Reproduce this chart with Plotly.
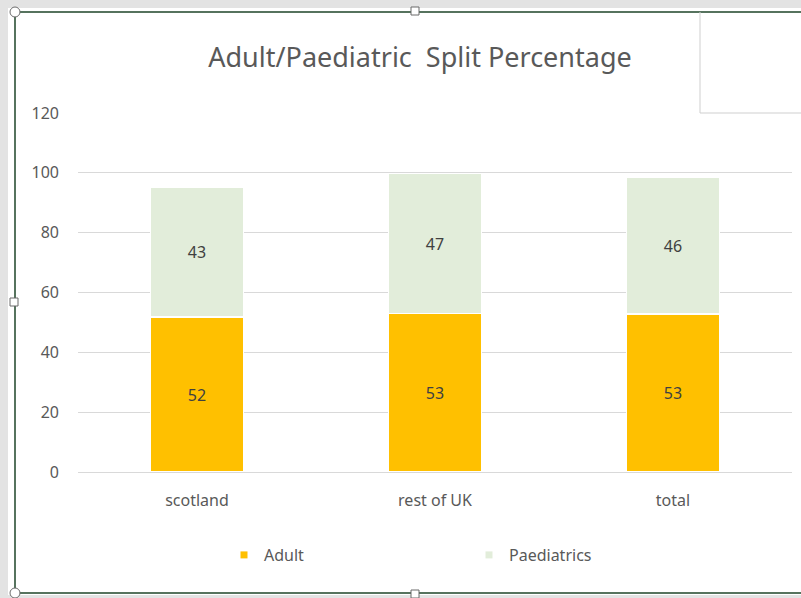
import plotly.graph_objects as go

categories = ["scotland", "rest of UK", "total"]
adult = [51.8, 53.0, 52.8]
paediatrics = [43.4, 46.7, 45.6]
y_ticks = [0, 20, 40, 60, 80, 100, 120]

W, H = 801, 598
ADULT_COLOR = "#FFC000"
PAED_COLOR = "#E2EDDA"
TEXT_GRAY = "#595959"
FONT = "Noto Sans"


def px_x(x):
    return x / W


def px_y(y):
    return 1 - y / H


fig = go.Figure()
for name, values, color in [("Adult", adult, ADULT_COLOR), ("Paediatrics", paediatrics, PAED_COLOR)]:
    fig.add_trace(
        go.Bar(
            x=categories,
            y=values,
            name=name,
            marker=dict(color=color, line=dict(color="white", width=1.5)),
            texttemplate="%{y:.0f}",
            textposition="inside",
            insidetextanchor="middle",
            textfont=dict(family=FONT, size=16, color="#404040"),
            showlegend=False,
            width=0.39,
        )
    )
    # small square legend markers like Excel's
    fig.add_trace(
        go.Scatter(
            x=[None],
            y=[None],
            mode="markers",
            name=name,
            marker=dict(symbol="square", size=7, color=color),
        )
    )

fig.update_layout(
    width=W,
    height=H,
    barmode="stack",
    margin=dict(l=0, r=0, t=0, b=0, autoexpand=False),
    paper_bgcolor="white",
    plot_bgcolor="white",
    font=dict(family=FONT, color=TEXT_GRAY),
    title=dict(
        text="Adult/Paediatric  Split Percentage",
        x=px_x(420),
        y=px_y(58),
        xanchor="center",
        yanchor="middle",
        font=dict(family=FONT, size=27, color=TEXT_GRAY),
    ),
    legend=dict(
        orientation="h",
        traceorder="normal",
        x=px_x(224),
        y=px_y(555),
        xanchor="left",
        yanchor="middle",
        entrywidth=200,
        entrywidthmode="pixels",
        font=dict(family=FONT, size=16, color=TEXT_GRAY),
    ),
    xaxis=dict(
        domain=[px_x(78), px_x(792)],
        showline=True,
        linecolor="#D9D9D9",
        showgrid=False,
        ticks="",
        ticklabelstandoff=14,
        tickfont=dict(family=FONT, size=16, color=TEXT_GRAY),
    ),
    yaxis=dict(
        domain=[px_y(472), px_y(113)],
        range=[0, 120],
        tickvals=y_ticks,
        showgrid=True,
        gridcolor="#D9D9D9",
        zeroline=False,
        ticklabelstandoff=18,
        tickfont=dict(family=FONT, size=16, color=TEXT_GRAY),
    ),
)

# worksheet background and chart selection frame
FRAME = dict(color="#56735E", width=2)
shapes = [
    dict(type="rect", x0=0, x1=1, y0=px_y(0), y1=px_y(8), fillcolor="#E3E3E3", line_width=0),
    dict(type="rect", x0=0, x1=px_x(8), y0=0, y1=1, fillcolor="#E3E3E3", line_width=0),
    dict(type="rect", x0=0, x1=1, y0=0, y1=px_y(595), fillcolor="#E3E3E3", line_width=0),
    dict(type="line", x0=px_x(15), x1=1.01, y0=px_y(12), y1=px_y(12), line=FRAME),
    dict(type="line", x0=px_x(15), x1=px_x(15), y0=px_y(12), y1=px_y(593), line=FRAME),
    dict(type="line", x0=px_x(15), x1=1.01, y0=px_y(593), y1=px_y(593), line=FRAME),
    dict(type="line", x0=px_x(700), x1=px_x(700), y0=px_y(12), y1=px_y(113), line=dict(color="#CFCFCF", width=1)),
    dict(type="line", x0=px_x(700), x1=1, y0=px_y(113), y1=px_y(113), line=dict(color="#CFCFCF", width=1)),
]
for cx, cy in [(15, 12), (15, 593)]:
    shapes.append(dict(type="circle", x0=px_x(cx - 5), x1=px_x(cx + 5), y0=px_y(cy - 5), y1=px_y(cy + 5),
                       fillcolor="white", line=dict(color="#6B6B6B", width=1)))
for cx, cy in [(415, 11), (14, 302), (415, 594)]:
    shapes.append(dict(type="rect", x0=px_x(cx - 4), x1=px_x(cx + 4), y0=px_y(cy - 4), y1=px_y(cy + 4),
                       fillcolor="white", line=dict(color="#6B6B6B", width=1)))
for s in shapes:
    s["xref"] = "paper"
    s["yref"] = "paper"
    s["layer"] = "below" if s["type"] == "rect" and s.get("line_width") == 0 else "above"
fig.update_layout(shapes=shapes)

# drop the page's default body margin so the figure fills the window exactly
fig.write_html(
    "out.html",
    config={"displayModeBar": False},
    post_script="document.body.style.margin='0';",
)
